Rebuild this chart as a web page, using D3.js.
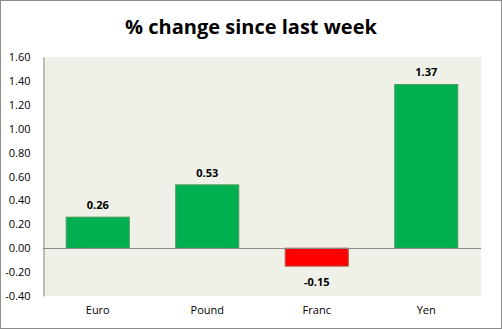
<!DOCTYPE html>
<html>
<head>
<meta charset="utf-8">
<script src="https://cdn.jsdelivr.net/npm/d3@7"></script>
<style>
  html, body { margin: 0; padding: 0; background: #fff; }
  svg { display: block; }
  text { font-family: "Open Sans", "DejaVu Sans", sans-serif; fill: #000; }
</style>
</head>
<body>
<svg id="chart" width="502" height="329"></svg>
<script>
// Weekly currency moves
const categories = ["Euro", "Pound", "Franc", "Yen"];
const changes = [0.26, 0.53, -0.15, 1.37];
const tickValues = [-0.4, -0.2, 0, 0.2, 0.4, 0.6, 0.8, 1.0, 1.2, 1.4, 1.6];
const title = "% change since last week";

const W = 502, H = 329;
const plot = { left: 43, right: 481, top: 57, bottom: 296 };

// plain hyphen for negatives
const fmt = d3.formatLocale({ decimal: ".", thousands: ",", grouping: [3], currency: ["", ""], minus: "-" }).format(".2f");

const svg = d3.select("#chart");

// outer frame
svg.append("rect")
  .attr("x", 0.5).attr("y", 0.5)
  .attr("width", W - 1).attr("height", H - 1)
  .attr("fill", "#fff").attr("stroke", "#8c8c8c");

// plot area background
svg.append("rect")
  .attr("x", plot.left).attr("y", plot.top)
  .attr("width", plot.right - plot.left).attr("height", plot.bottom - plot.top)
  .attr("fill", "#eff1e8");

const x = d3.scaleBand()
  .domain(categories)
  .range([plot.left, plot.right])
  .paddingInner(0.415)
  .paddingOuter(0.2075);

const y = d3.scaleLinear()
  .domain([-0.4, 1.6])
  .range([plot.bottom, plot.top]);

// title
svg.append("text")
  .attr("x", W / 2).attr("y", 34)
  .attr("text-anchor", "middle")
  .attr("font-size", 20).attr("font-weight", "bold")
  .text(title);

// bars
svg.selectAll("rect.bar")
  .data(changes)
  .join("rect")
  .attr("class", "bar")
  .attr("x", (d, i) => x(categories[i]) + 0.5)
  .attr("width", x.bandwidth() - 1)
  .attr("y", d => y(Math.max(0, d)))
  .attr("height", d => Math.abs(y(d) - y(0)))
  .attr("fill", d => d >= 0 ? "#00b050" : "#ff0000")
  .attr("stroke", d => d >= 0 ? "#4e9a5a" : "#b0543a")
  .attr("stroke-width", 1);

// zero line
svg.append("line")
  .attr("x1", plot.left).attr("x2", plot.right)
  .attr("y1", Math.round(y(0)) + 0.5).attr("y2", Math.round(y(0)) + 0.5)
  .attr("stroke", "#888").attr("stroke-width", 1);

// y axis
const yAxis = d3.axisLeft(y)
  .tickValues(tickValues)
  .tickSize(0)
  .tickPadding(13)
  .tickFormat(fmt);

const gy = svg.append("g")
  .attr("transform", `translate(${plot.left + 0.5},0)`)
  .call(yAxis);
gy.select(".domain").attr("stroke", "#888");
gy.selectAll("text")
  .attr("font-size", 11)
  .attr("font-family", "Open Sans, DejaVu Sans, sans-serif")
  .attr("fill", "#000");

// x category labels
const xAxis = d3.axisBottom(x).tickSize(0).tickPadding(10);
const gx = svg.append("g")
  .attr("transform", `translate(0,${plot.bottom})`)
  .call(xAxis);
gx.select(".domain").remove();
gx.selectAll("text")
  .attr("font-size", 11)
  .attr("font-family", "Open Sans, DejaVu Sans, sans-serif")
  .attr("fill", "#000");

// value labels
svg.selectAll("text.value")
  .data(changes)
  .join("text")
  .attr("class", "value")
  .attr("x", (d, i) => x(categories[i]) + x.bandwidth() / 2)
  .attr("y", d => d >= 0 ? y(d) - 8 : y(d) + 20)
  .attr("text-anchor", "middle")
  .attr("font-size", 11).attr("font-weight", "bold")
  .text(d => fmt(d));
</script>
</body>
</html>
